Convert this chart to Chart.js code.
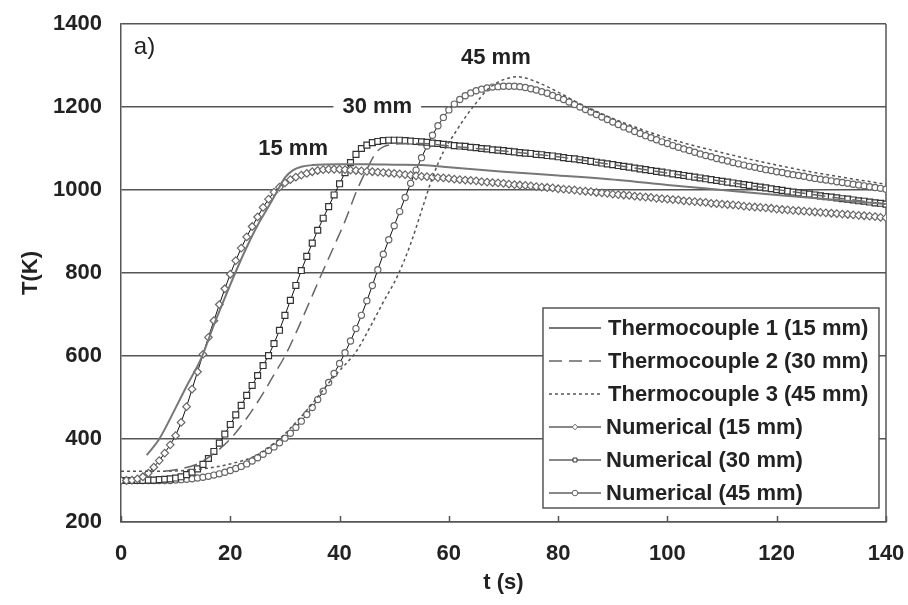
<!DOCTYPE html>
<html><head><meta charset="utf-8">
<script src="https://cdn.jsdelivr.net/npm/chart.js@4/dist/chart.umd.min.js"></script>
<style>html,body{margin:0;padding:0;background:#fff}#wrap{width:908px;height:605px}</style>
</head><body><div id="wrap"><canvas id="c" width="908" height="605"></canvas></div>
<script>
// ---- data ----
const numTime = [0,1,2,3,4,5,6,7,8,9,10,11,12,13,14,15,16,17,18,19,20,21,22,23,24,25,26,27,28,29,30,31,32,33,34,35,36,37,38,39,40,41,42,43,44,45,46,47,48,49,50,51,52,53,54,55,56,57,58,59,60,61,62,63,64,65,66,67,68,69,70,71,72,73,74,75,76,77,78,79,80,81,82,83,84,85,86,87,88,89,90,91,92,93,94,95,96,97,98,99,100,101,102,103,104,105,106,107,108,109,110,111,112,113,114,115,116,117,118,119,120,121,122,123,124,125,126,127,128,129,130,131,132,133,134,135,136,137,138,139,140];
const num15 = [300,300,301,304,309,318,332,348,366,386,
  408,440,478,520,562,604,645,685,724,762,
  797,830,860,887,912,935,958,978,995,1007,
  1017,1025,1031,1036,1040,1044,1047,1049,1050,1050,
  1050,1049,1048,1047,1046,1045,1044,1043,1042,1041,
  1040,1039,1037,1036,1034,1033,1032,1031,1030,1029,
  1028,1026,1025,1024,1023,1022,1020,1019,1018,1017,
  1016,1014,1013,1012,1011,1010,1008,1007,1006,1005,
  1003,1002,1001,1000,998,997,996,994,993,992,
  990,989,988,987,985,984,983,982,980,979,
  978,977,976,974,973,972,971,970,968,967,
  966,965,964,963,961,960,959,958,957,956,
  954,953,952,951,950,949,948,947,946,945,
  944,943,942,941,940,939,938,937,936,934,933];
const num30 = [300,300,300,300,300,301,301,302,303,304,
  306,309,314,320,328,339,353,370,390,412,
  435,458,481,505,529,553,577,601,630,662,
  698,734,770,806,840,872,903,932,960,988,
  1015,1042,1066,1086,1100,1108,1114,1117,1119,1120,
  1120,1120,1119,1118,1117,1116,1115,1113,1112,1110,
  1109,1107,1106,1105,1103,1102,1100,1099,1097,1096,
  1095,1093,1092,1090,1089,1088,1086,1085,1083,1082,
  1080,1078,1076,1075,1073,1071,1069,1067,1065,1063,
  1061,1059,1057,1055,1053,1051,1049,1047,1045,1043,
  1041,1039,1037,1035,1033,1031,1029,1027,1025,1023,
  1021,1019,1017,1015,1013,1011,1009,1007,1005,1003,
  1001,999,997,995,993,991,990,988,986,984,
  983,981,979,978,976,974,973,971,969,968,966];
const num45 = [300,300,300,300,300,300,300,300,300,300,
  301,302,303,304,306,308,310,313,316,320,
  324,329,334,340,347,355,363,372,381,391,
  402,414,428,443,459,476,495,515,536,558,
  582,608,636,666,698,733,770,808,845,880,
  914,948,982,1016,1048,1078,1106,1132,1155,1175,
  1193,1207,1218,1227,1234,1239,1243,1246,1248,1249,
  1250,1250,1250,1249,1247,1244,1241,1237,1233,1228,
  1223,1218,1212,1206,1200,1194,1188,1182,1176,1170,
  1164,1158,1152,1147,1141,1136,1131,1126,1121,1116,
  1112,1107,1103,1099,1095,1091,1087,1083,1080,1076,
  1073,1070,1066,1063,1060,1057,1055,1052,1049,1047,
  1044,1042,1039,1037,1035,1033,1030,1028,1026,1024,
  1022,1020,1018,1016,1014,1012,1010,1008,1006,1004,1002];
const tc1Time = [4.7,7,10,12,14.8,17,19,20.9,23,25,27,28.5,30,31.5,33,35,40,45,50,55,60,70,80,91,100,110,120,130,140];
const tc1Temp = [361,400,475,527,598,675,740,800,862,915,960,995,1030,1048,1056,1060,1062,1062,1061,1060,1055,1044,1035,1024,1012,1000,988,977,966];
const tc2Time = [8,10,14,17,20,23,26,28,30,32,34,36.8,39,41,43.2,45,46.8,48,50,52,55,60,70,80,90,100,110,120,130,140];
const tc2Temp = [322,326,340,365,400,450,510,555,600,655,715,800,865,925,1000,1050,1092,1104,1110,1112,1112,1106,1094,1080,1061,1041,1021,1001,983,966];
const tc3Time = [0,5,10,15,20,25,29,32,35,38,40,43,46,48,50.5,53,55,57,59,61,63,65,67,69,71,72.5,74,77,80,85,91,100,110,120,130,140];
const tc3Temp = [322,322,323,328,340,362,400,440,485,535,565,610,680,730,790,870,950,1030,1092,1135,1175,1210,1241,1260,1270,1273,1270,1255,1236,1200,1167,1125,1090,1060,1035,1014];
const seriesLabels = ['Thermocouple 1 (15 mm)','Thermocouple 2 (30 mm)','Thermocouple 3 (45 mm)','Numerical (15 mm)','Numerical (30 mm)','Numerical (45 mm)'];
const xTicks = [0,20,40,60,80,100,120,140];
const yTicks = [200,400,600,800,1000,1200,1400];
const curveLabels = ['15 mm','30 mm','45 mm'];
const panelLabel = 'a)';
const xTitle = 't (s)';
const yTitle = 'T(K)';

// ---- chart ----
const FONT = "'Liberation Sans', Arial, Helvetica, sans-serif";
const TXT = '#222';
const pts = (xs, ys) => xs.map((x, i) => ({x: x, y: ys[i]}));

function marker(ctx, style, r, x, y) {
  ctx.beginPath();
  if (style === 'rectRot') {
    ctx.moveTo(x, y - r); ctx.lineTo(x + r, y); ctx.lineTo(x, y + r); ctx.lineTo(x - r, y); ctx.closePath();
  } else if (style === 'rect') {
    const s = r * Math.SQRT1_2; ctx.rect(x - s, y - s, 2 * s, 2 * s);
  } else {
    ctx.arc(x, y, r, 0, Math.PI * 2);
  }
  ctx.fill(); ctx.stroke();
}

const decorPlugin = {
  id: 'decor',
  beforeDatasetsDraw(chart) {
    const {ctx, chartArea: a, scales: {x, y}} = chart;
    ctx.save();
    ctx.strokeStyle = '#555'; ctx.lineWidth = 1.5;
    ctx.beginPath(); ctx.moveTo(a.right, a.top); ctx.lineTo(a.right, a.bottom); ctx.stroke();
    ctx.beginPath();
    xTicks.forEach(v => { const px = Math.round(x.getPixelForValue(v)) + 0.5; ctx.moveTo(px, a.bottom); ctx.lineTo(px, a.bottom - 6); });
    ctx.stroke();
    ctx.font = 'bold 22px ' + FONT; ctx.fillStyle = TXT; ctx.textAlign = 'center'; ctx.textBaseline = 'middle';
    const pos = [[31.5, 1100], [46.9, 1200], [68.6, 1318]];
    curveLabels.forEach((t, i) => {
      const px = x.getPixelForValue(pos[i][0]), py = y.getPixelForValue(pos[i][1]);
      if (i === 1) {
        const w = ctx.measureText(t).width;
        ctx.fillStyle = '#fff'; ctx.fillRect(px - w / 2 - 9, py - 4, w + 18, 8); ctx.fillStyle = TXT;
      }
      ctx.fillText(t, px, py);
    });
    ctx.font = '24px ' + FONT;
    ctx.fillText(panelLabel, x.getPixelForValue(4.3), y.getPixelForValue(1343));
    ctx.restore();
  },
  afterDatasetsDraw(chart) {
    const {ctx, chartArea: a} = chart;
    const L = a.left + 422, T = a.top + 284, R = a.right - 7, B = a.bottom - 14;
    ctx.save();
    ctx.fillStyle = '#fff'; ctx.fillRect(L, T, R - L, B - T);
    ctx.strokeStyle = '#555'; ctx.lineWidth = 1.5; ctx.strokeRect(L, T, R - L, B - T);
    ctx.font = 'bold 22px ' + FONT; ctx.textAlign = 'left'; ctx.textBaseline = 'middle';
    chart.data.datasets.forEach((ds, i) => {
      const yy = T + 20 + i * 33;
      ctx.strokeStyle = ds.borderColor; ctx.lineWidth = ds.borderWidth;
      ctx.setLineDash(ds.borderDash || []);
      ctx.beginPath(); ctx.moveTo(L + 6, yy); ctx.lineTo(L + 58, yy); ctx.stroke();
      ctx.setLineDash([]);
      if (ds.pointRadius > 0) {
        ctx.fillStyle = '#fff'; ctx.strokeStyle = ds.pointBorderColor; ctx.lineWidth = 1;
        marker(ctx, ds.pointStyle, 2.8, L + 32, yy);
      }
      ctx.fillStyle = TXT;
      ctx.fillText(ds.label, L + (ds.pointRadius > 0 ? 63 : 65), yy + 1);
    });
    ctx.restore();
  }
};

const tcStyle = (color, width, dash) => ({borderColor: color, borderWidth: width, borderDash: dash, pointRadius: 0, fill: false, cubicInterpolationMode: 'monotone'});
const numStyle = (ps, r, pc) => ({borderColor: '#111', borderWidth: 1, pointStyle: ps, pointRadius: r, pointBorderColor: pc, pointBackgroundColor: '#fff', pointBorderWidth: 1.2, fill: false});

new Chart(document.getElementById('c'), {
  type: 'line',
  data: {
    datasets: [
      Object.assign({label: seriesLabels[0], data: pts(tc1Time, tc1Temp)}, tcStyle('#777', 2, [])),
      Object.assign({label: seriesLabels[1], data: pts(tc2Time, tc2Temp)}, tcStyle('#666', 1.5, [13, 7])),
      Object.assign({label: seriesLabels[2], data: pts(tc3Time, tc3Temp)}, tcStyle('#555', 1.5, [3, 3])),
      Object.assign({label: seriesLabels[3], data: pts(numTime, num15)}, numStyle('rectRot', 3.8, '#666')),
      Object.assign({label: seriesLabels[4], data: pts(numTime, num30)}, numStyle('rect', 4.2, '#333')),
      Object.assign({label: seriesLabels[5], data: pts(numTime, num45)}, numStyle('circle', 3.1, '#666'))
    ]
  },
  options: {
    responsive: false, devicePixelRatio: 1, animation: false, events: [],
    layout: {padding: {top: 24, right: 22, left: 0, bottom: 0}},
    plugins: {legend: {display: false}, tooltip: {enabled: false}},
    scales: {
      x: {
        type: 'linear', min: 0, max: 140,
        afterBuildTicks: s => { s.ticks = xTicks.map(v => ({value: v})); },
        afterFit: s => { s.height = 83; s.paddingLeft = 0; s.paddingRight = 0; s.paddingTop = 0; s.paddingBottom = 0; },
        ticks: {padding: 19, color: TXT, font: {family: FONT, size: 22, weight: 'bold'}, maxRotation: 0, callback: v => String(v)},
        grid: {display: false, drawTicks: false},
        border: {display: true, color: '#555', width: 1.5},
        title: {display: true, text: xTitle, color: TXT, font: {family: FONT, size: 22, weight: 'bold'}, padding: {top: 0, bottom: 9}}
      },
      y: {
        min: 200, max: 1400,
        afterBuildTicks: s => { s.ticks = yTicks.map(v => ({value: v})); },
        afterFit: s => { s.width = 121; s.paddingLeft = 0; s.paddingRight = 0; s.paddingTop = 0; s.paddingBottom = 0; },
        ticks: {padding: 19, color: TXT, font: {family: FONT, size: 22, weight: 'bold'}, callback: v => String(v)},
        grid: {color: '#555', lineWidth: 1.5, drawTicks: false},
        border: {display: true, color: '#555', width: 1.5},
        title: {display: true, text: yTitle, color: TXT, font: {family: FONT, size: 22, weight: 'bold'}, padding: {top: 18, bottom: 0}}
      }
    }
  },
  plugins: [decorPlugin]
});
</script></body></html>
